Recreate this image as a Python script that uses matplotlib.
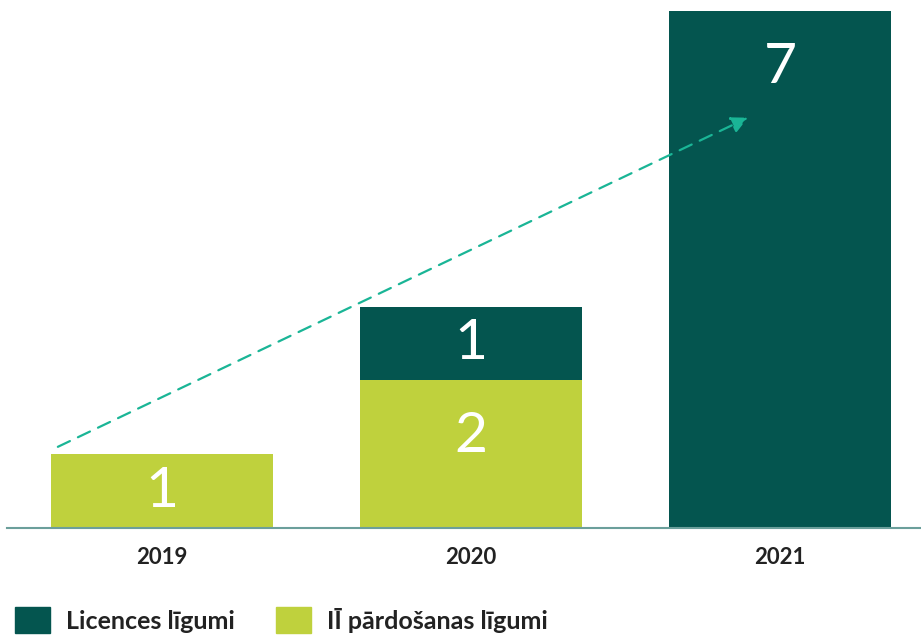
import matplotlib.pyplot as plt
from matplotlib.patches import Patch
import numpy as np

plt.rcParams['font.family'] = ['Lato', 'DejaVu Sans']

years = ['2019', '2020', '2021']
sales = [1, 2, 0]      # IĪ pārdošanas līgumi
licences = [0, 1, 7]   # Licences līgumi
series_names = ['Licences līgumi', 'IĪ pārdošanas līgumi']

dark = '#04554f'
lime = '#bfd13d'
arrow_col = '#1ab596'
axis_col = '#6b9f9b'

W, H = 921, 636
fig = plt.figure(figsize=(W / 100, H / 100), dpi=100)
ax = fig.add_axes([7 / W, 108 / H, 914 / W, 528 / H])

x = np.arange(len(years))
ax.bar(x, sales, width=0.718, color=lime)
ax.bar(x, licences, width=0.718, bottom=sales, color=dark)

ax.set_xlim(-0.5016, 2.456)
ax.set_ylim(0, 528 / 73.8)

# value labels inside segments
for i in range(len(years)):
    for bottom, h in [(0, sales[i]), (sales[i], licences[i])]:
        if h <= 0:
            continue
        y = bottom + h / 2 if h <= 1 else bottom + h - 0.76
        ax.text(x[i], y, str(h), ha='center', va='center', color='white',
                fontsize=41)

# trend arrow
ax.annotate('', xy=(1.896, 5.56), xytext=(-0.337, 1.10),
            arrowprops=dict(arrowstyle='-|>,head_length=1.0,head_width=0.5',
                            color=arrow_col, lw=1.6, linestyle=(0, (6, 4)),
                            shrinkA=0, shrinkB=0))

for s in ['top', 'right', 'left']:
    ax.spines[s].set_visible(False)
ax.spines['bottom'].set_color(axis_col)
ax.spines['bottom'].set_linewidth(1.5)
ax.set_yticks([])
ax.set_xticks(x)
ax.set_xticklabels(years, fontsize=16, fontweight='bold', color='#222222')
ax.tick_params(axis='x', length=0, pad=14)

handles = [Patch(color=dark), Patch(color=lime)]
fig.legend(handles, series_names, loc='lower left', bbox_to_anchor=(15 / W, 0.004),
           ncol=2, frameon=False, prop={'weight': 'bold', 'size': 18},
           handlelength=1.4, handleheight=1.25, handletextpad=0.64,
           columnspacing=1.64, borderpad=0, borderaxespad=0,
           labelcolor='#222222')

fig.savefig('out.png', dpi=100)
